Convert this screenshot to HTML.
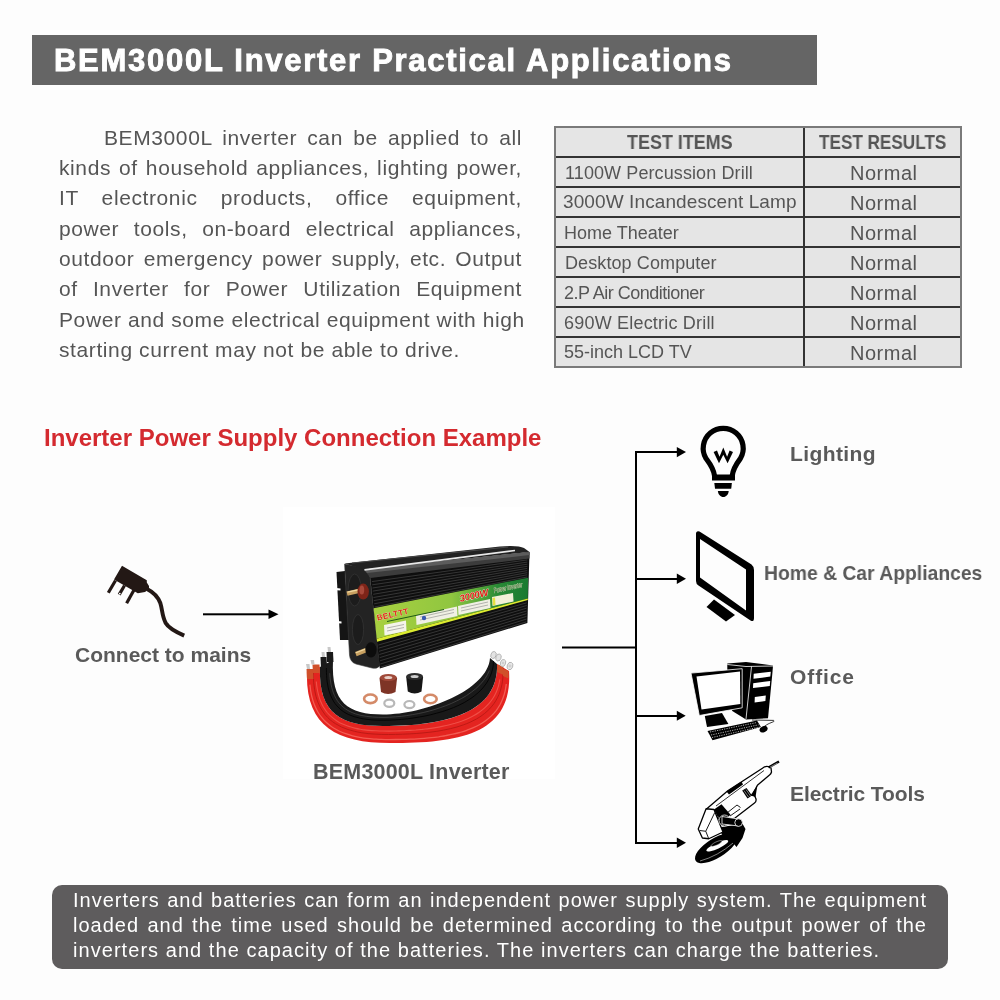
<!DOCTYPE html>
<html><head><meta charset="utf-8">
<style>
*{margin:0;padding:0;box-sizing:border-box}
html,body{width:1000px;height:1000px;overflow:hidden;background:#fdfdfd;font-family:"Liberation Sans",sans-serif}
.a,.pl,.tc,.nm,.th,.lab,.bl{will-change:transform}
.a{position:absolute;white-space:nowrap}
#bar{position:absolute;left:32px;top:35px;width:785px;height:50px;background:#656565}
#title{left:54px;top:43.5px;font-weight:bold;font-size:31px;line-height:34px;color:#fff;letter-spacing:1.72px;transform-origin:0 0;transform:scaleX(1.0);-webkit-text-stroke:0.9px #fff}
.pl{position:absolute;left:59px;width:463px;font-size:21px;color:#555;text-align:justify;text-align-last:justify;white-space:nowrap;line-height:24px;letter-spacing:0.6px}
#tbl{position:absolute;left:554px;top:126px;width:408px;height:242px;background:#e5e5e5;border:2px solid #7a7a7a}
.hl{position:absolute;left:0;width:404px;height:2px;background:#333}
.vl{position:absolute;left:247px;top:0;width:2px;height:238px;background:#333}
.tc{position:absolute;font-size:18px;color:#555;white-space:nowrap;line-height:22px}
.nm{position:absolute;left:849.5px;font-size:20px;color:#555;white-space:nowrap;line-height:22px;letter-spacing:0.5px}
.th{position:absolute;font-size:19.5px;font-weight:bold;color:#555;white-space:nowrap;line-height:22px;transform-origin:0 0}
#red{left:44px;top:424px;font-size:24px;line-height:28px;font-weight:bold;color:#d42a2f}
.lab{position:absolute;font-size:21px;font-weight:bold;color:#5a5a5a;white-space:nowrap;line-height:24px;transform-origin:0 0}
#box{position:absolute;left:52px;top:885px;width:896px;height:84px;background:#5e5c5d;border-radius:10px}
.bl{position:absolute;left:73px;width:854px;font-size:20px;color:#fff;text-align:justify;text-align-last:justify;white-space:nowrap;line-height:24px;letter-spacing:1px}
</style></head><body>
<div id="bar"></div>
<div class="a" id="title">BEM3000L Inverter Practical Applications</div>

<div class="pl" style="top:126px;padding-left:45px">BEM3000L inverter can be applied to all</div>
<div class="pl" style="top:156px">kinds of household appliances, lighting power,</div>
<div class="pl" style="top:186px">IT electronic products, office equipment,</div>
<div class="pl" style="top:217px">power tools, on-board electrical appliances,</div>
<div class="pl" style="top:247px">outdoor emergency power supply, etc. Output</div>
<div class="pl" style="top:277px">of Inverter for Power Utilization Equipment</div>
<div class="pl" style="top:308px">Power and some electrical equipment with high</div>
<div class="pl" style="top:338px;text-align-last:left">starting current may not be able to drive.</div>

<div id="tbl">
 <div class="hl" style="top:28px"></div>
 <div class="hl" style="top:58px"></div>
 <div class="hl" style="top:88px"></div>
 <div class="hl" style="top:118px"></div>
 <div class="hl" style="top:148px"></div>
 <div class="hl" style="top:178px"></div>
 <div class="hl" style="top:208px"></div>
 <div class="vl"></div>
</div>
<div class="th" id="th1" style="left:627px;top:131px;transform:scaleX(0.92)">TEST ITEMS</div>
<div class="th" id="th2" style="left:819px;top:131px;transform:scaleX(0.879)">TEST RESULTS</div>
<div class="tc" style="left:564.5px;top:162px;letter-spacing:0.1px">1100W Percussion Drill</div>
<div class="tc" style="left:563px;top:191px;font-size:19px;letter-spacing:0.1px">3000W Incandescent Lamp</div>
<div class="tc" style="left:564px;top:222px">Home Theater</div>
<div class="tc" style="left:564.5px;top:252px;letter-spacing:0.1px">Desktop Computer</div>
<div class="tc" style="left:564px;top:282px;letter-spacing:-0.5px">2.P Air Conditioner</div>
<div class="tc" style="left:564px;top:312px;letter-spacing:0.2px">690W Electric Drill</div>
<div class="tc" style="left:564px;top:341px">55-inch LCD TV</div>
<div class="nm" style="top:162px">Normal</div>
<div class="nm" style="top:192px">Normal</div>
<div class="nm" style="top:222px">Normal</div>
<div class="nm" style="top:252px">Normal</div>
<div class="nm" style="top:282px">Normal</div>
<div class="nm" style="top:312px">Normal</div>
<div class="nm" style="top:342px">Normal</div>

<div id="photo" style="position:absolute;left:283px;top:507px;width:272px;height:272px;background:#fff"></div>
<!-- inverter -->
<svg style="position:absolute;left:0;top:0" width="1000" height="1000" viewBox="0 0 1000 1000">
<defs>
 <linearGradient id="lg" x1="375" y1="0" x2="528" y2="0" gradientUnits="userSpaceOnUse">
  <stop offset="0" stop-color="#a8d040"/>
  <stop offset="0.5" stop-color="#90c640"/>
  <stop offset="0.68" stop-color="#58a83a"/>
  <stop offset="0.8" stop-color="#2a8a36"/>
  <stop offset="1" stop-color="#1a7a30"/>
 </linearGradient>
 <linearGradient id="tg" x1="0" y1="545" x2="0" y2="575" gradientUnits="userSpaceOnUse">
  <stop offset="0" stop-color="#2a2a2a"/>
  <stop offset="1" stop-color="#0c0c0c"/>
 </linearGradient>
</defs>
<path fill="#151515" d="M336.5,572 L345,571 L349.5,640 L340,640 Z"/>
<path fill="#fff" d="M336.3,588 L340.5,588.5 L340.5,590.5 L336.5,590.3 Z M337.5,621 L341.5,621.5 L341.5,623.5 L337.7,623.3 Z"/>
<path fill="#232323" stroke="#3a3a3a" stroke-width="0.6" d="M344.6,564 L362,567.5 Q369,570 370,577 L379.8,665.4 Q378,669 372,668 L356,664 Q350,662 349.5,655 Z"/>
<path fill="#222" d="M344.6,563.5 L500,546.5 Q518,545 524,548 L529.5,552 L364,569.4 Z"/>
<path fill="none" stroke="#4a4a4a" stroke-width="1.2" d="M352,563 L508,547"/>
<path fill="#0e0e0e" d="M370,576 L529.5,552 L527.4,623 L379.8,668.5 Z"/>
<path fill="#3c3c3c" d="M364,569.4 L529.5,552 L529.5,558.6 L370.5,578 Z"/>
<path fill="#5c5c5c" d="M364,569.4 L529.5,552 L529.5,555 L367,573 Z"/>
<path fill="none" stroke="#e8e8e8" stroke-width="1.7" d="M364.5,569.8 L515,550.5"/>
<path fill="none" stroke="#3a3a3a" stroke-width="0.9" d="M371.9,581.6 L527.4,559.9 M372.2,584.8 L527.3,562.1 M372.5,588.0 L527.3,564.2 M372.8,591.1 L527.3,566.3 M373.2,594.3 L527.2,568.4 M373.5,597.5 L527.2,570.6 M373.8,600.6 L527.2,572.7 M374.2,603.8 L527.1,574.8 M374.5,607.0 L527.1,577.0 M378.4,645.0 L526.7,602.8 M378.7,648.1 L526.7,605.5 M379.0,651.3 L526.6,608.2 M379.4,654.5 L526.6,611.0 M379.7,657.6 L526.5,613.7 M380.0,660.8 L526.5,616.4 M380.3,664.0 L526.5,619.1 M380.7,667.1 L526.4,621.8 "/>
<path fill="url(#lg)" d="M373.6,608.2 L528.1,577.8 L527.8,598.4 L376.7,638.8 Z"/>
<path fill="#dcec30" d="M376.7,638.8 L527.8,598.4 L527.8,600.1 L377.1,641.8 Z"/>
<g>
 <path fill="#f4f4ea" d="M384,625 L406,620.5 L406.5,631 L384.5,635.5 Z"/>
 <path fill="#f0f0e4" d="M416,615.5 L457,606.5 L457.5,616 L416.5,625 Z"/>
 <path fill="#f0f0e4" d="M458,606 L490,599 L490.5,608 L458.5,615 Z"/>
 <path fill="#f2f0d8" d="M492,597 L513,593 L513.5,601.5 L492.5,606 Z"/>
 <path fill="#e8e040" d="M492.5,598 L495,597.5 L495.5,605 L493,605.5 Z"/>
 <text x="0" y="0" transform="translate(460,602) rotate(-13) skewX(-10)" font-family="Liberation Sans" font-weight="bold" font-size="9.5" fill="#e8201a" stroke="#fff" stroke-width="0.5" paint-order="stroke" letter-spacing="-0.2">3000W</text>
 <text x="0" y="0" transform="translate(494,593) rotate(-12) skewX(-8)" font-family="Liberation Sans" font-size="7" fill="#3a5a30" stroke="#d8ecc0" stroke-width="0.6" paint-order="stroke" textLength="29" lengthAdjust="spacingAndGlyphs">Power Inverter</text>
 <text x="0" y="0" transform="translate(377.5,620.5) rotate(-12)" font-family="Liberation Sans" font-weight="bold" font-size="8" fill="#e42a1e" stroke="#f0f0d0" stroke-width="0.4" paint-order="stroke" letter-spacing="0.4">BELTTT</text>
 <path fill="none" stroke="#1e5a14" stroke-width="1" d="M387,621.5 L444,609.5"/>
 <path fill="none" stroke="#888" stroke-width="0.6" d="M387,628 L404,624.5 M387,631 L404,627.5 M420,617 L454,609.5 M420,620 L454,612.5 M461,608 L488,602 M461,611 L488,605"/>
 <circle cx="424" cy="618" r="2.2" fill="#3a5ab0"/>
</g>
<ellipse cx="354.7" cy="590" rx="6.6" ry="16" fill="#1c1c1c" stroke="#333" stroke-width="0.8"/>
<ellipse cx="358" cy="629.5" rx="5.6" ry="15" fill="#1c1c1c" stroke="#333" stroke-width="0.8"/>
<line x1="347" y1="593.6" x2="360" y2="590.6" stroke="#c8a060" stroke-width="4.5"/>
<line x1="347.5" y1="592.2" x2="359" y2="589.6" stroke="#f0d8a0" stroke-width="1.2"/>
<ellipse cx="363.2" cy="591.6" rx="5.7" ry="8" fill="#7e2418"/>
<ellipse cx="361.8" cy="590" rx="2.4" ry="4.5" fill="#a8483a"/>
<line x1="355.8" y1="654.2" x2="366" y2="650.2" stroke="#c8a060" stroke-width="4.5"/>
<line x1="356" y1="652.7" x2="365.5" y2="649" stroke="#f0d8a0" stroke-width="1.2"/>
<ellipse cx="371" cy="649.8" rx="5.6" ry="7.6" fill="#0c0c0c"/>
<!-- cables -->
<path fill="#e42420" d="M307.0,671.0 C305.0,725.0 335.0,743.0 390.0,743.0 C462.0,743.0 513.0,733.0 509.0,671.0 L497.0,664.0 C499.0,712.0 447.0,726.0 383.0,726.0 C343.0,726.0 318.0,715.0 320.0,667.0 Z"/>
<path fill="#191919" d="M320.0,667.0 C318.0,715.0 343.0,726.0 383.0,726.0 C447.0,726.0 499.0,712.0 497.0,664.0 L490.0,658.0 C488.0,690.0 425.0,714.5 383.0,714.5 C348.0,714.5 331.0,703.0 333.0,660.0 Z"/>
<path fill="none" stroke="#b81814" stroke-width="0.9" d="M313.5,669.0 C313.5,670.1 313.4,673.6 313.4,675.9 C313.5,678.2 313.6,680.5 313.7,682.8 C313.9,685.0 314.2,687.3 314.6,689.6 C315.0,691.8 315.4,694.1 316.0,696.3 C316.6,698.5 317.3,700.7 318.2,702.8 C319.1,705.0 320.1,707.1 321.2,709.0 C322.4,711.0 323.7,712.9 325.1,714.7 C326.6,716.4 328.2,718.1 329.9,719.6 C331.7,721.1 333.5,722.5 335.5,723.7 C337.4,724.9 339.4,726.0 341.5,727.0 C343.6,727.9 345.7,728.7 347.9,729.5 C350.1,730.2 352.3,730.8 354.5,731.3 C356.8,731.9 359.0,732.3 361.3,732.7 C363.6,733.0 365.8,733.3 368.1,733.6 C370.4,733.8 372.7,734.0 375.0,734.1 C377.3,734.3 379.6,734.3 381.8,734.4 C384.1,734.5 386.4,734.5 388.7,734.5 C391.0,734.5 393.3,734.4 395.6,734.4 C397.9,734.3 400.2,734.3 402.5,734.2 C404.8,734.1 407.1,734.0 409.4,733.9 C411.7,733.8 414.0,733.7 416.2,733.5 C418.5,733.3 420.8,733.2 423.1,732.9 C425.4,732.7 427.7,732.5 430.0,732.2 C432.2,731.9 434.5,731.6 436.8,731.3 C439.0,730.9 441.3,730.5 443.6,730.1 C445.8,729.7 448.1,729.2 450.3,728.7 C452.5,728.2 454.7,727.6 456.9,727.0 C459.2,726.3 461.3,725.6 463.5,724.8 C465.7,724.1 467.8,723.2 469.9,722.3 C472.0,721.3 474.1,720.3 476.1,719.2 C478.0,718.1 480.0,716.9 481.9,715.5 C483.7,714.2 485.5,712.8 487.2,711.2 C488.9,709.7 490.5,708.0 491.9,706.2 C493.4,704.5 494.7,702.6 495.9,700.6 C497.0,698.6 498.1,696.6 499.0,694.5 C499.8,692.4 500.6,690.2 501.1,688.0 C501.7,685.8 502.2,683.5 502.5,681.2 C502.8,679.0 503.0,676.7 503.0,674.4 C503.1,672.1 503.0,668.6 503.0,667.5"/>
<path fill="none" stroke="#f66a60" stroke-width="1.3" opacity="0.8" d="M309.9,684.6 C310.1,685.8 310.4,689.4 310.8,691.7 C311.2,694.1 311.7,696.5 312.4,698.8 C313.0,701.1 313.8,703.4 314.7,705.6 C315.6,707.8 316.7,710.0 317.9,712.0 C319.1,714.1 320.5,716.1 322.0,717.9 C323.5,719.8 325.2,721.5 327.0,723.1 C328.8,724.7 330.7,726.2 332.7,727.5 C334.7,728.8 336.9,729.9 339.0,731.0 C341.2,732.0 343.4,732.9 345.7,733.7 C347.9,734.5 350.3,735.2 352.6,735.8 C354.9,736.4 357.3,736.9 359.6,737.3 C362.0,737.7 364.4,738.1 366.7,738.4 C369.1,738.7 371.5,738.9 373.9,739.1 C376.3,739.2 378.7,739.4 381.1,739.4 C383.5,739.5 385.9,739.6 388.3,739.6 C390.7,739.6 393.1,739.6 395.5,739.5 C397.9,739.5 400.3,739.5 402.7,739.4 C405.1,739.3 407.5,739.3 409.9,739.2 C412.3,739.1 414.7,739.0 417.1,738.8 C419.5,738.7 421.9,738.5 424.3,738.3 C426.7,738.1 429.1,737.9 431.5,737.6 C433.9,737.4 436.3,737.1 438.6,736.8 C441.0,736.4 443.4,736.1 445.8,735.6 C448.1,735.2 450.5,734.8 452.8,734.2 C455.2,733.7 457.5,733.1 459.8,732.5 C462.1,731.8 464.4,731.1 466.7,730.3 C468.9,729.5 471.2,728.7 473.4,727.7 C475.6,726.7 477.7,725.7 479.8,724.5 C481.9,723.3 483.9,722.0 485.9,720.5 C487.8,719.1 489.6,717.6 491.4,715.9 C493.1,714.2 494.7,712.5 496.2,710.6 C497.6,708.7 498.9,706.6 500.1,704.5 C501.2,702.4 502.2,700.2 503.0,698.0 C503.9,695.7 504.6,693.4 505.1,691.1 C505.6,688.8 506.1,685.2 506.3,684.0"/>
<path fill="none" stroke="#f66a60" stroke-width="1.1" opacity="0.6" d="M316.3,681.5 C316.4,682.6 316.7,686.0 317.1,688.2 C317.5,690.3 317.9,692.5 318.5,694.7 C319.0,696.8 319.7,699.0 320.5,701.0 C321.4,703.1 322.3,705.1 323.4,707.0 C324.6,708.9 325.8,710.8 327.2,712.5 C328.7,714.2 330.2,715.8 331.9,717.2 C333.6,718.7 335.4,720.0 337.3,721.2 C339.2,722.4 341.1,723.4 343.2,724.3 C345.2,725.2 347.3,726.0 349.4,726.6 C351.5,727.3 353.7,727.9 355.8,728.4 C358.0,728.9 360.2,729.2 362.4,729.6 C364.6,729.9 366.8,730.2 369.0,730.4 C371.2,730.6 373.5,730.7 375.7,730.8 C377.9,730.9 380.1,731.0 382.3,731.0 C384.6,731.1 386.8,731.1 389.0,731.1 C391.2,731.0 393.5,731.0 395.7,731.0 C397.9,730.9 400.1,730.8 402.3,730.7 C404.6,730.7 406.8,730.5 409.0,730.4 C411.2,730.3 413.5,730.1 415.7,730.0 C417.9,729.8 420.1,729.6 422.3,729.4 C424.5,729.1 426.7,728.9 428.9,728.6 C431.1,728.3 433.3,728.0 435.5,727.6 C437.7,727.3 439.9,726.9 442.1,726.4 C444.3,726.0 446.5,725.5 448.6,725.0 C450.8,724.5 452.9,723.9 455.0,723.3 C457.2,722.6 459.3,721.9 461.4,721.2 C463.5,720.4 465.5,719.6 467.6,718.7 C469.6,717.8 471.6,716.8 473.5,715.7 C475.5,714.6 477.4,713.5 479.2,712.2 C481.0,710.9 482.8,709.6 484.4,708.1 C486.1,706.6 487.7,705.0 489.1,703.4 C490.6,701.7 491.9,699.9 493.1,698.0 C494.3,696.1 495.3,694.2 496.2,692.2 C497.1,690.1 497.9,688.0 498.5,685.9 C499.1,683.8 499.7,680.5 499.9,679.4"/>
<path fill="none" stroke="#000" stroke-width="0.8" d="M326.5,663.5 C326.5,664.5 326.4,667.5 326.4,669.5 C326.4,671.4 326.4,673.4 326.6,675.4 C326.7,677.4 326.8,679.4 327.1,681.3 C327.4,683.3 327.7,685.3 328.1,687.2 C328.5,689.1 329.0,691.0 329.7,692.9 C330.3,694.8 331.1,696.6 332.0,698.4 C332.8,700.2 333.9,701.9 335.0,703.5 C336.2,705.1 337.5,706.6 338.9,707.9 C340.3,709.3 341.9,710.6 343.5,711.7 C345.2,712.8 346.9,713.7 348.7,714.6 C350.5,715.4 352.4,716.1 354.3,716.7 C356.2,717.3 358.1,717.8 360.0,718.2 C362.0,718.6 363.9,719.0 365.9,719.2 C367.9,719.5 369.8,719.7 371.8,719.9 C373.8,720.0 375.8,720.1 377.8,720.2 C379.7,720.2 381.7,720.2 383.7,720.2 C385.7,720.2 387.7,720.2 389.7,720.1 C391.6,720.0 393.6,719.9 395.6,719.8 C397.6,719.7 399.6,719.6 401.5,719.4 C403.5,719.2 405.5,719.0 407.4,718.8 C409.4,718.5 411.4,718.3 413.3,718.0 C415.3,717.7 417.3,717.4 419.2,717.0 C421.2,716.7 423.1,716.3 425.0,716.0 C427.0,715.6 428.9,715.1 430.9,714.7 C432.8,714.2 434.7,713.8 436.6,713.2 C438.5,712.7 440.4,712.2 442.3,711.6 C444.2,711.0 446.1,710.4 448.0,709.7 C449.8,709.0 451.7,708.3 453.5,707.6 C455.3,706.8 457.2,706.0 459.0,705.2 C460.8,704.3 462.5,703.4 464.3,702.5 C466.0,701.5 467.7,700.5 469.4,699.4 C471.0,698.4 472.7,697.2 474.2,696.0 C475.8,694.8 477.3,693.5 478.8,692.2 C480.2,690.8 481.6,689.4 482.9,687.9 C484.2,686.4 485.4,684.8 486.5,683.2 C487.5,681.6 488.5,679.9 489.4,678.1 C490.2,676.3 491.0,674.5 491.6,672.6 C492.2,670.8 492.6,668.8 493.0,666.9 C493.3,665.0 493.4,662.0 493.5,661.0"/>
<path fill="none" stroke="#4a4a4a" stroke-width="0.9" opacity="0.8" d="M329.7,673.3 C329.8,674.2 330.0,677.1 330.2,679.0 C330.4,680.9 330.7,682.8 331.1,684.7 C331.5,686.5 331.9,688.4 332.5,690.2 C333.1,692.1 333.7,693.9 334.5,695.6 C335.3,697.3 336.3,699.0 337.3,700.6 C338.4,702.2 339.6,703.7 341.0,705.1 C342.3,706.4 343.8,707.7 345.3,708.8 C346.9,709.9 348.5,710.9 350.3,711.7 C352.0,712.6 353.8,713.3 355.6,713.9 C357.4,714.5 359.3,715.0 361.1,715.4 C363.0,715.8 364.9,716.1 366.8,716.4 C368.7,716.7 370.6,716.8 372.5,717.0 C374.4,717.2 376.3,717.2 378.3,717.3 C380.2,717.4 382.1,717.4 384.0,717.4 C385.9,717.3 387.8,717.3 389.8,717.2 C391.7,717.1 393.6,717.0 395.5,716.8 C397.4,716.7 399.3,716.5 401.2,716.3 C403.1,716.1 405.0,715.8 406.9,715.6 C408.8,715.3 410.7,715.0 412.6,714.6 C414.5,714.3 416.4,714.0 418.3,713.6 C420.1,713.2 422.0,712.8 423.9,712.4 C425.7,711.9 427.6,711.5 429.4,711.0 C431.3,710.5 433.1,709.9 435.0,709.4 C436.8,708.8 438.6,708.3 440.4,707.6 C442.3,707.0 444.1,706.4 445.8,705.7 C447.6,705.0 449.4,704.3 451.2,703.5 C452.9,702.8 454.7,702.0 456.4,701.1 C458.1,700.3 459.8,699.4 461.5,698.5 C463.2,697.6 464.9,696.6 466.5,695.6 C468.1,694.6 469.7,693.5 471.2,692.3 C472.8,691.2 474.3,690.0 475.7,688.8 C477.2,687.5 478.6,686.2 479.9,684.8 C481.2,683.4 482.4,682.0 483.6,680.5 C484.8,679.0 485.8,677.4 486.8,675.8 C487.7,674.1 488.9,671.5 489.3,670.6"/>
<g>
 <path fill="#d0502a" d="M306.5,669 L313,669 L313.5,679 L307,679 Z"/>
 <path fill="#d0502a" d="M312.5,664.5 L319.5,664.5 L320,673 L313,673 Z"/>
 <path fill="#1a1a1a" d="M320.5,657 L326.5,657 L327,668 L321,668 Z"/>
 <path fill="#1a1a1a" d="M326.5,652 L333,652 L333.5,662 L327,662 Z"/>
 <path fill="#c8c8c8" d="M306,664 L309.5,664 L310,669 L307,669 Z M310.5,660 L314,660 L314.5,664.5 L311.5,664.5 Z M321.5,652 L324.5,652 L325,657 L322,657 Z M327.5,647 L330.5,647 L331,652 L328,652 Z"/>
 <path fill="#d0502a" d="M497.5,664.3 L503,667 L504.1,675.3 L497,672 Z"/>
 <path fill="#d0502a" d="M503,668.7 L508.5,671 L508.5,678.6 L503,676 Z"/>
 <ellipse cx="493.5" cy="655" rx="2.6" ry="3.6" transform="rotate(20 493.5 655)" fill="#e4e4e4" stroke="#9a9a9a" stroke-width="0.6"/>
 <ellipse cx="498.5" cy="657.5" rx="2.6" ry="3.6" transform="rotate(20 498.5 657.5)" fill="#e4e4e4" stroke="#9a9a9a" stroke-width="0.6"/>
 <ellipse cx="503" cy="663" rx="2.6" ry="3.6" transform="rotate(20 503 663)" fill="#e8e8e8" stroke="#9a9a9a" stroke-width="0.6"/>
 <ellipse cx="510" cy="666" rx="2.8" ry="3.8" transform="rotate(20 510 666)" fill="#e8e8e8" stroke="#9a9a9a" stroke-width="0.6"/>
 <circle cx="510" cy="666" r="1" fill="#fff" stroke="#888" stroke-width="0.4"/>
 <circle cx="503" cy="663" r="0.9" fill="#fff" stroke="#888" stroke-width="0.4"/>
</g>
<!-- caps & washers -->
<path fill="#7e3426" d="M379.5,678 Q388,673 397.1,678 L395.5,692 Q388,696 381,692 Z"/>
<ellipse cx="388.3" cy="677.5" rx="8.5" ry="3.5" fill="#a04a3a"/>
<ellipse cx="388.3" cy="677.5" rx="4" ry="1.6" fill="#e8d0c8"/>
<path fill="#161616" d="M406.2,677 Q414.6,672 423.1,677 L421.5,691.5 Q414.6,695.5 407.8,691.5 Z"/>
<ellipse cx="414.6" cy="676.5" rx="8.4" ry="3.4" fill="#2c2c2c"/>
<ellipse cx="414.6" cy="676.5" rx="4" ry="1.5" fill="#cfcfcf"/>
<ellipse cx="370.4" cy="698.8" rx="6.3" ry="4.3" fill="none" stroke="#d48a68" stroke-width="2.6"/>
<ellipse cx="389.3" cy="703.3" rx="5" ry="3.6" fill="none" stroke="#b8b8b8" stroke-width="2.2"/>
<ellipse cx="409.4" cy="704.6" rx="5" ry="3.6" fill="none" stroke="#b8b8b8" stroke-width="2.2"/>
<ellipse cx="430.4" cy="699" rx="6.3" ry="4.3" fill="none" stroke="#d48a68" stroke-width="2.6"/>
</svg>
<!-- /inverter -->
<div class="a" id="red">Inverter Power Supply Connection Example</div>

<div class="lab" style="left:75px;top:643px">Connect to mains</div>
<div class="lab" style="left:313px;top:760px;font-size:21.5px;letter-spacing:0.2px">BEM3000L Inverter</div>
<div class="lab" style="left:790px;top:442px;letter-spacing:0.4px">Lighting</div>
<div class="lab" style="left:763.5px;top:561px;transform:scaleX(0.92)">Home &amp; Car Appliances</div>
<div class="lab" style="left:790px;top:665px;letter-spacing:0.9px">Office</div>
<div class="lab" style="left:790px;top:782px;letter-spacing:-0.1px">Electric Tools</div>


<svg style="position:absolute;left:0;top:0" width="1000" height="1000" viewBox="0 0 1000 1000">
<!-- connector arrows -->
<g fill="#000" stroke="none">
 <rect x="203" y="613.3" width="67" height="2"/>
 <path d="M268.5,609.5 L278.5,614.3 L268.5,619 Z"/>
 <rect x="562" y="646.5" width="75" height="2"/>
 <rect x="635" y="451" width="2" height="393"/>
 <rect x="635" y="451" width="43" height="2"/>
 <path d="M676.8,447 L686,452 L676.8,457.2 Z"/>
 <rect x="636" y="578" width="42" height="2"/>
 <path d="M676.8,573.6 L686,578.8 L676.8,584 Z"/>
 <rect x="636" y="715" width="42" height="2"/>
 <path d="M676.8,710.7 L685.7,715.8 L676.8,720.8 Z"/>
 <rect x="635" y="842" width="43" height="2"/>
 <path d="M676.8,837.6 L686,842.8 L676.8,848 Z"/>
</g>
<!-- plug -->
<g fill="#231815" stroke="#231815">
 <path stroke="none" d="M122,565.8 L146.8,580.2 L146.8,582.5 L149,586 L149,589 L145,592 L137.8,593.3 L114,579.5 Z"/>
 <line x1="115.5" y1="580.5" x2="108.3" y2="592.8" stroke-width="3.2"/>
 <line x1="124.5" y1="585.5" x2="119.2" y2="594.6" stroke-width="3.2"/>
 <line x1="134" y1="590" x2="126.6" y2="603.2" stroke-width="3.2"/>
 <circle cx="119.8" cy="593.6" r="0.9" fill="#fff" stroke="none"/>
 <path fill="none" stroke-width="4" d="M147,589 C153,592 158,597 160.3,603 C162.5,610 162,616 165.7,623 C168.5,628 176,632 184.2,635.6"/>
</g>
<!-- bulb -->
<g fill="#000" stroke="#000">
 <path fill="none" stroke-width="5.2" d="M714.6,476 C713.5,468 709,462.5 706,458.5 A20,20 0 1 1 740.4,458.5 C737.4,462.5 733,468 732.2,476"/>
 <rect stroke="none" x="712" y="474.5" width="23" height="6"/>
 <path stroke="none" d="M714.3,483 L731.9,483 L731.2,488.8 L715,488.8 Z"/>
 <path stroke="none" d="M717.9,491 L728.7,491 C728.5,494.5 726,497 723.3,497 C720.6,497 718.1,494.5 717.9,491 Z"/>
 <path stroke="none" d="M713.6,451.9 L717,450.6 L719.5,456.8 L723.3,447.4 L727.1,456.8 L729.6,450.6 L733,451.9 L727.6,463.2 L723.3,454.8 L719,463.2 Z"/>
</g>
<!-- monitor -->
<g fill="#000">
 <path fill-rule="evenodd" d="M696,534 Q696,530.5 699.5,531.5 L751.5,564.5 Q754,566.5 754,570 L754,618 Q754,622.5 750.5,620.5 L698.5,585.5 Q696,584 696,581 Z M700,539 L746,569.5 L746,610.5 L700,577.5 Z"/>
 <path d="M714,599.5 L735,615 L726,621.5 L706.5,607 Z"/>
</g>
<!-- computer -->
<g fill="#000">
 <path d="M727.3,663.5 L746,662 L773,665.4 L772.5,672 L768,718.2 L746,719.5 L732.3,711 L727.3,700 Z"/>
 <path fill="#fff" d="M753.7,673.8 L770.8,671.8 L770.3,676.6 L753.5,678.8 Z M753.2,683.2 L770.2,681 L769.8,686 L753,688 Z M754.8,697 L765.8,695.5 L765.4,701 L754.6,702.5 Z"/>
 <path fill="none" stroke="#fff" stroke-width="0.8" d="M751.5,666.5 L746,719 M727.3,664.5 L746,666.5 L773,666"/>
 <path stroke="#fff" stroke-width="0.8" d="M691,673.1 L742.2,668.7 L742.2,707.8 L699.3,715.5 Z"/>
 <path fill="#fff" d="M696.5,676.4 L740,671.5 L740.3,703.9 L701.5,709.4 Z"/>
 <path d="M704.8,716 L722,713 L728.4,724 L707,727 Z"/>
 <path d="M707.5,730.9 L757,720.4 L760.9,727 L712.5,740.2 Z"/>
 <path fill="none" stroke="#fff" stroke-width="0.7" stroke-dasharray="1.2,1.2" d="M710,732 L757,722.5 M711,735 L758.5,724.8 M712,737.5 L759.5,727"/>
 <ellipse cx="763.6" cy="729.2" rx="4.2" ry="3" transform="rotate(-25 763.6 729.2)"/>
 <path fill="none" stroke="#000" stroke-width="0.8" d="M765,726 C770,722 776,722 773.5,720.4 L752,720"/>
</g>
<!-- grinder -->
<g>
 <ellipse cx="716" cy="848" rx="24" ry="9.8" transform="rotate(-32 716 848)" fill="#000"/>
 <ellipse cx="717.3" cy="845.8" rx="12" ry="2.9" transform="rotate(-25 717.3 845.8)" fill="#fff"/>
 <ellipse cx="716.5" cy="843.5" rx="6" ry="1.6" transform="rotate(-25 716.5 843.5)" fill="#000" stroke="#fff" stroke-width="0.4"/>
 <path fill="none" stroke="#fff" stroke-width="0.5" d="M700,861 Q718,856 733,843"/>
 <path fill="#000" d="M718.5,827.5 L742.5,823.75 L745.5,829 L742.5,838 L736.5,847 L732.75,842.5 L723,836.5 Z"/>
 <path fill="#fff" stroke="#000" stroke-width="1.3" stroke-linejoin="round" d="M706.5,808.9 L727.8,790.8 L764.6,766.8 Q768,765.5 771,768 L771.5,772 Q771,774 769.5,775 L757.4,785.2 L753.5,793 L756,799 Q756.5,801.5 754.5,803 L735,818 L723,821.5 Z"/>
 <path fill="#fff" stroke="#000" stroke-width="1.3" stroke-linejoin="round" d="M698.25,829 L706.1,808.75 L714,809.5 L723,832 L708.75,838.75 L702.4,838 Z"/>
 <path fill="none" stroke="#000" stroke-width="0.9" d="M699.75,830.5 L705.75,831.25 L708.75,838.75 M705.75,831.25 L714.75,812.5"/>
 <path fill="none" stroke="#000" stroke-width="0.8" d="M716,806 L764,770.5"/>
 <path fill="#000" d="M714,809.5 L721.5,804.25 L730.5,814.75 L723,821.5 L717,815.5 Z"/>
 <path fill="#000" d="M726.5,791.5 L741.5,781.5 L743,784.5 L729,794.5 Z"/>
 <path fill="#000" d="M750.5,795.5 L757.4,785.2 L755.5,797 Z"/>
 <path fill="#000" d="M742.2,790.5 L746.5,788 L752,795.5 L747.5,798.5 Z"/>
 <path fill="none" stroke="#fff" stroke-width="0.5" d="M744,790.5 L748.5,797 M746,789.5 L750.5,796"/>
 <path fill="none" stroke="#000" stroke-width="0.9" d="M727,813 L737,805 L740.5,807.5 M730,816 L740,809"/>
 <circle cx="724.5" cy="820.5" r="5.5" fill="#000" stroke="#fff" stroke-width="0.8"/>
 <path fill="#000" stroke="#fff" stroke-width="0.8" d="M722,816.5 L738.5,819 L738.5,826 L722,824 Z"/>
 <circle cx="738.6" cy="822.6" r="3.8" fill="#000" stroke="#fff" stroke-width="0.8"/>
 <path fill="none" stroke="#000" stroke-width="2.4" d="M768.5,767.5 L779,761.5"/>
 <path fill="none" stroke="#fff" stroke-width="0.5" d="M770,767.2 L777.5,763"/>
</g>
</svg>

<div id="box"></div>
<div class="bl" style="top:888px">Inverters and batteries can form an independent power supply system. The equipment</div>
<div class="bl" style="top:913px">loaded and the time used should be determined according to the output power of the</div>
<div class="bl" style="top:938px;text-align-last:left;letter-spacing:1.05px">inverters and the capacity of the batteries. The inverters can charge the batteries.</div>
</body></html>
